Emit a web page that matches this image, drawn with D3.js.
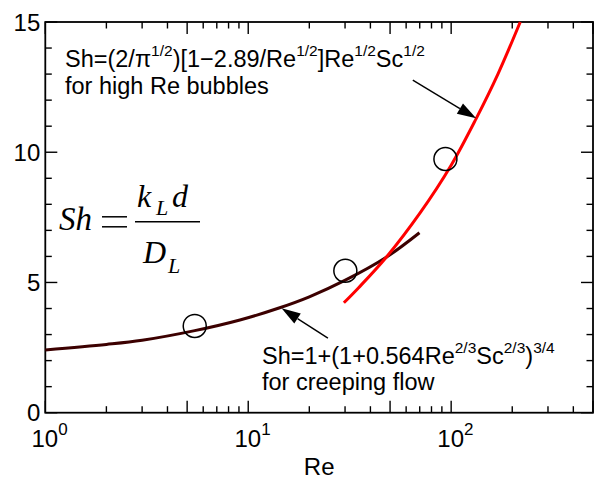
<!DOCTYPE html>
<html>
<head>
<meta charset="utf-8">
<script src="https://cdn.jsdelivr.net/npm/d3@7"></script>
<style>
  html, body { margin: 0; padding: 0; background: #fff; }
  svg { display: block; }
  text { font-family: "Liberation Sans", Arial, sans-serif; fill: #000; }
  .serif { font-family: "Liberation Serif", "Times New Roman", serif; font-style: italic; }
</style>
</head>
<body>
<svg id="chart" width="597" height="483"></svg>
<script>
// Creeping-flow correlation curve (Re, Sh)
const creepRe = [1, 2, 3, 5.45, 9.1, 14.3, 20, 30.1, 47.9, 69.8];
const creepSh = [2.41, 2.62, 2.78, 3.15, 3.56, 4.03, 4.45, 5.09, 5.97, 6.91];

// High-Re bubble correlation curve (Re, Sh)
const highRe = [29.6, 35, 47.9, 70, 100, 133, 170, 219];
const highSh = [4.22, 4.8, 5.97, 7.65, 9.5, 11.3, 13.0, 15.0];

// Measured points
const pointRe = [5.45, 30.1, 93.7];
const pointSh = [3.33, 5.45, 9.74];

// Axis ticks
const xDecades = [1, 10, 100];
const xDecadeLabels = ["0", "1", "2"];
const yTicks = [0, 5, 10, 15];

const plot = { left: 45.3, right: 593, top: 22, bottom: 412.7 };

const svg = d3.select("#chart");
const x = d3.scaleLog().domain([1, 500]).range([plot.left, plot.right]);
const y = d3.scaleLinear().domain([0, 15]).range([plot.bottom, plot.top]);

// ---- ticks (inward, mirrored on all four sides) ----
const xMinor = [];
for (let d = 1; d <= 100; d *= 10) {
  for (let k = 1; k <= 9; k++) {
    const v = d * k;
    if (v <= 500) xMinor.push(v);
  }
}
const isMajorX = v => {
  const m = v / Math.pow(10, Math.floor(Math.log10(v) + 1e-9));
  return Math.abs(m - 1) < 1e-6 || Math.abs(m - 5) < 1e-6;
};
const ticksG = svg.append("g").attr("stroke", "#000").attr("stroke-width", 1.4);
xMinor.forEach(v => {
  const len = isMajorX(v) ? 12 : 6.5;
  const px = x(v);
  ticksG.append("line").attr("x1", px).attr("x2", px).attr("y1", plot.bottom).attr("y2", plot.bottom - len);
  ticksG.append("line").attr("x1", px).attr("x2", px).attr("y1", plot.top).attr("y2", plot.top + len);
});
for (let v = 0; v <= 15; v++) {
  const len = v % 5 === 0 ? 12 : 6.5;
  const py = y(v);
  ticksG.append("line").attr("x1", plot.left).attr("x2", plot.left + len).attr("y1", py).attr("y2", py);
  ticksG.append("line").attr("x1", plot.right).attr("x2", plot.right - len).attr("y1", py).attr("y2", py);
}

// ---- frame ----
svg.append("rect")
  .attr("x", plot.left).attr("y", plot.top)
  .attr("width", plot.right - plot.left).attr("height", plot.bottom - plot.top)
  .attr("fill", "none").attr("stroke", "#000").attr("stroke-width", 1.8);

// ---- tick labels ----
yTicks.forEach(v => {
  svg.append("text")
    .attr("x", plot.left - 5).attr("y", y(v) + 8.5)
    .attr("text-anchor", "end").attr("font-size", 24)
    .text(v);
});
xDecades.forEach((v, i) => {
  const t = svg.append("text")
    .attr("x", x(v) - 13.8).attr("y", 447).attr("font-size", 24);
  t.append("tspan").text("10");
  t.append("tspan").attr("dy", -12).attr("font-size", 17).text(xDecadeLabels[i]);
});
svg.append("text")
  .attr("x", (plot.left + plot.right) / 2).attr("y", 475)
  .attr("text-anchor", "middle").attr("font-size", 24).text("Re");

// ---- curves ----
const line = d3.line().x(d => x(d[0])).y(d => y(d[1])).curve(d3.curveCatmullRom.alpha(0.5));
svg.append("path")
  .datum(creepRe.map((r, i) => [r, creepSh[i]]))
  .attr("d", line).attr("fill", "none")
  .attr("stroke", "#3c0000").attr("stroke-width", 3);
svg.append("path")
  .datum(highRe.map((r, i) => [r, highSh[i]]))
  .attr("d", line).attr("fill", "none")
  .attr("stroke", "#ff0000").attr("stroke-width", 3);

// ---- measured points ----
svg.selectAll("circle.pt")
  .data(pointRe.map((r, i) => [r, pointSh[i]]))
  .join("circle").attr("class", "pt")
  .attr("cx", d => x(d[0])).attr("cy", d => y(d[1])).attr("r", 11.5)
  .attr("fill", "none").attr("stroke", "#000").attr("stroke-width", 1.5);

// ---- annotation arrows ----
function arrow(from, to) {
  const x1 = x(from[0]), y1 = y(from[1]), x2 = x(to[0]), y2 = y(to[1]);
  const a = Math.atan2(y2 - y1, x2 - x1);
  const L = 19, hw = 6;
  const bx = x2 - L * Math.cos(a), by = y2 - L * Math.sin(a);
  svg.append("line").attr("x1", x1).attr("y1", y1).attr("x2", bx).attr("y2", by)
    .attr("stroke", "#000").attr("stroke-width", 1.4);
  svg.append("path")
    .attr("d", `M${x2},${y2}L${bx + hw * Math.sin(a)},${by - hw * Math.cos(a)}L${bx - hw * Math.sin(a)},${by + hw * Math.cos(a)}Z`)
    .attr("fill", "#000");
}
arrow([64.7, 12.77], [132.8, 11.3]);
arrow([24.7, 2.86], [14.6, 4.01]);

// ---- correlation labels: runs of text and superscripts laid out left to right ----
const labelSize = 23.5, supSize = 15.5, supRise = 11;
function formula(px, py, parts) {
  const g = svg.append("g");
  let cx = px;
  parts.forEach(p => {
    const sup = typeof p === "object";
    const t = g.append("text")
      .attr("x", cx)
      .attr("y", sup ? py - supRise : py)
      .attr("font-size", sup ? supSize : labelSize)
      .text(sup ? p.sup : p);
    cx += t.node().getComputedTextLength();
  });
}
formula(65, 67, ["Sh=(2/\u03c0", { sup: "1/2" }, ")[1\u22122.89/Re", { sup: "1/2" }, "]Re", { sup: "1/2" }, "Sc", { sup: "1/2" }]);
svg.append("text").attr("x", 65).attr("y", 93.5).attr("font-size", labelSize).text("for high Re bubbles");

formula(262, 363.5, ["Sh=1+(1+0.564Re", { sup: "2/3" }, "Sc", { sup: "2/3" }, ")", { sup: "3/4" }]);
svg.append("text").attr("x", 262).attr("y", 390).attr("font-size", labelSize).text("for creeping flow");

// ---- definition of the Sherwood number ----
const def = svg.append("g");
def.append("text").attr("class", "serif").attr("x", 59).attr("y", 230).attr("font-size", 33).text("Sh");
def.append("g").attr("stroke", "#000").attr("stroke-width", 1.5)
  .selectAll("line").data([216.8, 226.8]).join("line")
  .attr("x1", 102).attr("x2", 127).attr("y1", d => d).attr("y2", d => d);
def.append("text").attr("class", "serif").attr("x", 137).attr("y", 206.5).attr("font-size", 32).text("k");
def.append("text").attr("class", "serif").attr("x", 156).attr("y", 215).attr("font-size", 22).text("L");
def.append("text").attr("class", "serif").attr("x", 172).attr("y", 206.5).attr("font-size", 32).text("d");
def.append("line").attr("x1", 135).attr("x2", 200).attr("y1", 221.7).attr("y2", 221.7)
  .attr("stroke", "#000").attr("stroke-width", 1.5);
def.append("text").attr("class", "serif").attr("x", 143).attr("y", 263.3).attr("font-size", 32).text("D");
def.append("text").attr("class", "serif").attr("x", 168).attr("y", 273.3).attr("font-size", 22).text("L");
</script>
</body>
</html>
